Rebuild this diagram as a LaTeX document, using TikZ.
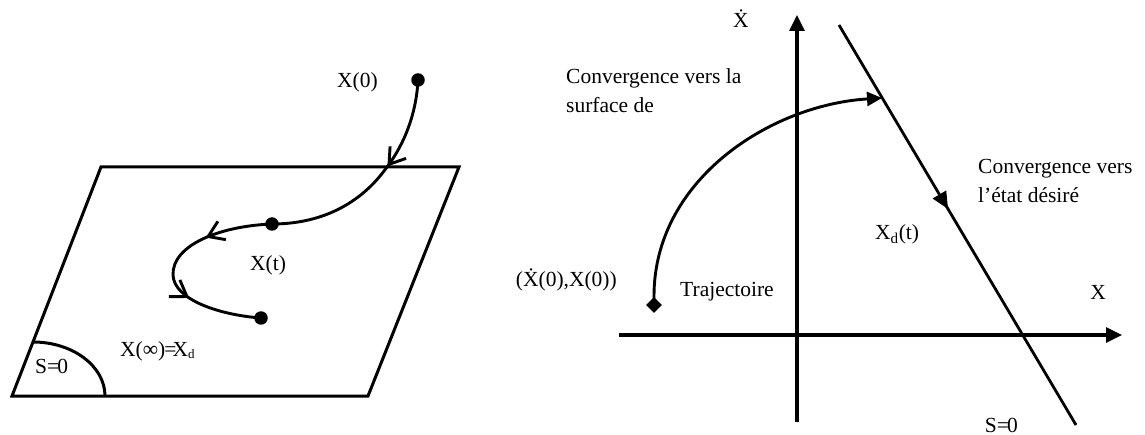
\documentclass[tikz,border=0pt]{standalone}
\usepackage{fontspec}
\setmainfont{Liberation Serif}
\usetikzlibrary{arrows.meta,decorations.markings,shapes.geometric}
\newcommand{\Xdot}{Ẋ}
\begin{document}
\begin{tikzpicture}[x=1pt,y=-1pt,
  lbl/.style={inner sep=0pt,font=\fontsize{21.5}{29}\selectfont},
  plane/.style={line width=3pt,line join=miter},
  traj/.style={line width=2.9pt},
  dotn/.style={circle,fill=black,inner sep=0pt,minimum size=13.5pt},
  axisln/.style={line width=3.2pt,-{Triangle[length=16pt,width=15pt]}},
  barbtip/.tip={Straight Barb[length=15pt,width=20pt]},
]
\useasboundingbox (0,0) rectangle (1145,435);

% ---------- left: sliding surface ----------
\coordinate (p1) at (101,167);
\coordinate (p2) at (459,167);
\coordinate (p3) at (368,396);
\coordinate (p4) at (12,396);
\draw[plane] (p1) -- (p2) -- (p3) -- (p4) -- cycle;
\coordinate (a1) at (33,342);
\coordinate (a2) at (105,396);
\draw[plane] (a1) .. controls (72.7,342) and (105,366.2) .. (a2);

\node[dotn] (x0) at (418,80) {};
\node[dotn] (xt) at (272,224) {};
\node[dotn] (xinf) at (261,318) {};
\coordinate (edge) at (387,167);

\draw[traj,decoration={markings,mark=at position 93pt with {\arrow{barbtip}}},postaction={decorate}]
  (x0.center) .. controls (416,120) and (400,150) .. (edge)
  .. controls (360,205) and (320,224) .. (xt.center);
\draw[traj,decoration={markings,
    mark=at position 68pt with {\arrow{barbtip}},
    mark=at position 150pt with {\arrow{barbtip}}},postaction={decorate}]
  (xt.center) .. controls (220,226) and (172,245) .. (173,275)
  .. controls (174,300) and (220,315) .. (xinf.center);

\node[lbl,anchor=base west] (lx0) at (337,88) {X(0)};
\node[lbl,anchor=base west] (lxt) at (250,271) {X(t)};
\node[lbl,anchor=base west] (lxinf) at (120,356) {X(∞)\kern-1pt=\kern-4ptX\raisebox{-0.1em}{\fontsize{13}{13}\selectfont d}};
\node[lbl,anchor=base west] (ls) at (35,373) {S=\kern-2pt0};

% ---------- right: phase plane ----------
\coordinate (vb) at (797,422);
\coordinate (vt) at (797,15);
\coordinate (hl) at (619,335);
\coordinate (hr) at (1122,335);
\draw[axisln] (vb) -- (vt);
\draw[axisln] (hl) -- (hr);

\coordinate (s1) at (839,25);
\coordinate (s2) at (1076,425);
\draw[line width=2.8pt,decoration={markings,mark=at position 214pt with {\arrow{Triangle[length=17pt,width=15pt]}}},postaction={decorate}]
  (s1) -- (s2);

\node[diamond,fill=black,inner sep=0pt,minimum size=16pt] (init) at (654,305) {};
\coordinate (hit) at (882,98);
\draw[traj,-{Triangle[length=15pt,width=14pt]}]
  (init.center) -- (654,296) .. controls (654,180) and (770,105) .. (hit);

\node[lbl,anchor=base] (ldot) at (741,28) {\Xdot};
\node[lbl,anchor=base west,align=left] (lc1) at (566,84) {Convergence vers la};
\node[lbl,anchor=base west,align=left] (lc1b) at (566,113) {surface de};
\node[lbl,anchor=base west] (lc2) at (978,174) {Convergence vers};
\node[lbl,anchor=base west] (lc2b) at (978,203) {l’état désiré};
\node[lbl,anchor=base east] (linit) at (617,287) {(\Xdot(0),X(0))};
\node[lbl,anchor=base west] (ltraj) at (680,297) {Trajectoire};
\node[lbl,anchor=base west] (lxd) at (875,240) {X\textsubscript{d}(t)};
\node[lbl,anchor=base] (lx) at (1098,300) {X};
\node[lbl,anchor=base east] (ls0) at (1018,432) {S=\kern-2pt0};
\end{tikzpicture}
\end{document}
